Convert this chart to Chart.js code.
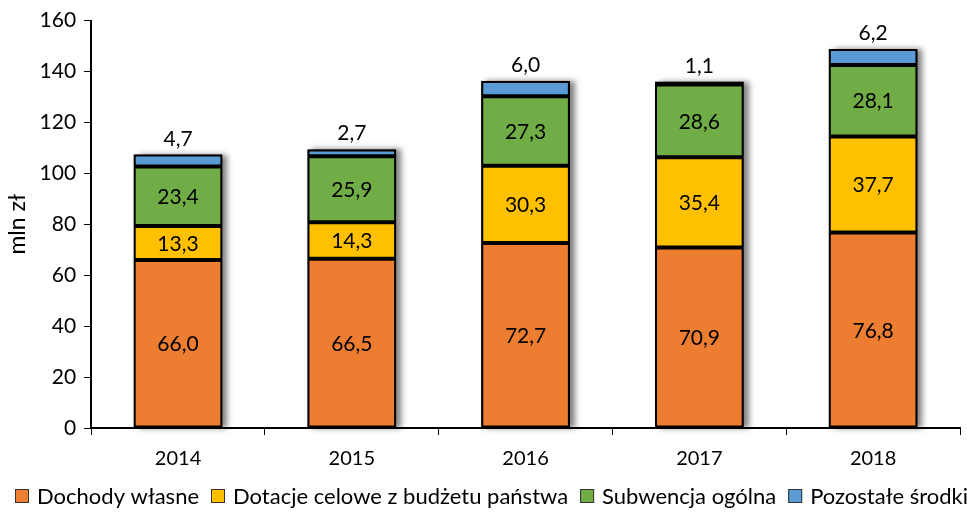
<!DOCTYPE html>
<html>
<head>
<meta charset="utf-8">
<script src="https://cdn.jsdelivr.net/npm/chart.js@4"></script>
<style>
  html, body { margin: 0; padding: 0; background: #fff; }
  #wrap { width: 967px; height: 519px; position: relative; }
</style>
</head>
<body>
<div id="wrap"><canvas id="chart"></canvas></div>
<script>
const years = ["2014", "2015", "2016", "2017", "2018"];
const dochodyWlasne = [66.0, 66.5, 72.7, 70.9, 76.8];
const dotacjeCelowe = [13.3, 14.3, 30.3, 35.4, 37.7];
const subwencjaOgolna = [23.4, 25.9, 27.3, 28.6, 28.1];
const pozostaleSrodki = [4.7, 2.7, 6.0, 1.1, 6.2];
const yTicks = [0, 20, 40, 60, 80, 100, 120, 140, 160];

Chart.defaults.font.family = "Lato, 'Open Sans', sans-serif";
Chart.defaults.color = "#000";

const fmt = (v) => v.toFixed(1).replace(".", ",");

// soft shadow on the right of each whole stack, drawn under the bars
const shadowPlugin = {
  id: "shadow",
  beforeDatasetsDraw(chart) {
    const ctx = chart.ctx;
    const last = chart.getDatasetMeta(chart.data.datasets.length - 1);
    const first = chart.getDatasetMeta(0);
    ctx.save();
    ctx.shadowColor = "rgba(0,0,0,0.5)";
    ctx.shadowBlur = 6;
    ctx.shadowOffsetX = 5;
    ctx.shadowOffsetY = 0;
    ctx.fillStyle = "#000";
    last.data.forEach((bar, j) => {
      const base = first.data[j].base;
      ctx.fillRect(bar.x - bar.width / 2, bar.y, bar.width, base - bar.y);
    });
    ctx.restore();
  },
};

// value labels: inside for the first three, above the bar for the last
const labelPlugin = {
  id: "valueLabels",
  afterDatasetsDraw(chart) {
    const ctx = chart.ctx;
    ctx.save();
    ctx.font = "21px Lato, sans-serif";
    ctx.fillStyle = "#000";
    ctx.textAlign = "center";
    chart.data.datasets.forEach((ds, i) => {
      const meta = chart.getDatasetMeta(i);
      meta.data.forEach((bar, j) => {
        const v = ds.data[j];
        if (i === 3) {
          ctx.textBaseline = "alphabetic";
          ctx.fillText(fmt(v), bar.x, bar.y - 9);
        } else {
          ctx.textBaseline = "middle";
          ctx.fillText(fmt(v), bar.x, (bar.y + bar.base) / 2 + 1);
        }
      });
    });
    ctx.restore();
  },
};

// one-line legend along the bottom edge, spaced like the original
const legendPlugin = {
  id: "bottomLegend",
  afterDraw(chart) {
    const ctx = chart.ctx;
    const y = 496;
    let x = 15;
    ctx.save();
    ctx.font = "22px Lato, sans-serif";
    ctx.textBaseline = "middle";
    ctx.textAlign = "left";
    chart.data.datasets.forEach((ds) => {
      ctx.fillStyle = ds.backgroundColor;
      ctx.fillRect(x, y - 7, 14, 14);
      ctx.strokeStyle = "#333";
      ctx.lineWidth = 1;
      ctx.strokeRect(x + 0.5, y - 6.5, 13, 13);
      ctx.fillStyle = "#000";
      ctx.fillText(ds.label, x + 22, y + 1);
      x += 22 + ctx.measureText(ds.label).width + 12;
    });
    ctx.restore();
  },
};

function series(label, data, color) {
  return {
    label: label,
    data: data,
    backgroundColor: color,
    borderColor: "#000",
    borderWidth: 2,
    borderSkipped: false,
    categoryPercentage: 1.0,
    barPercentage: 0.51,
  };
}

new Chart(document.getElementById("chart"), {
  type: "bar",
  data: {
    labels: years,
    datasets: [
      series("Dochody własne", dochodyWlasne, "#ED7D31"),
      series("Dotacje celowe z budżetu państwa", dotacjeCelowe, "#FFC000"),
      series("Subwencja ogólna", subwencjaOgolna, "#70AD47"),
      series("Pozostałe środki", pozostaleSrodki, "#5B9BD5"),
    ],
  },
  options: {
    responsive: true,
    maintainAspectRatio: false,
    animation: false,
    layout: { padding: { top: 10, right: 7, left: 4, bottom: 36 } },
    plugins: {
      tooltip: { enabled: false },
      legend: { display: false },
    },
    scales: {
      x: {
        stacked: true,
        grid: { drawOnChartArea: false, drawTicks: true, tickLength: 7, color: "#000", offset: true },
        border: { display: true, color: "#000", width: 2 },
        ticks: { font: { size: 20 }, padding: 12 },
      },
      y: {
        stacked: true,
        min: 0,
        max: 160,
        afterBuildTicks(axis) {
          axis.ticks = yTicks.map((v) => ({ value: v }));
        },
        grid: { drawOnChartArea: false, drawTicks: true, tickLength: 7, color: "#000" },
        border: { display: true, color: "#000", width: 2 },
        ticks: { font: { size: 21 }, padding: 8 },
        title: { display: true, text: "mln zł", font: { size: 23 }, padding: 0 },
      },
    },
  },
  plugins: [shadowPlugin, labelPlugin, legendPlugin],
});
</script>
</body>
</html>
